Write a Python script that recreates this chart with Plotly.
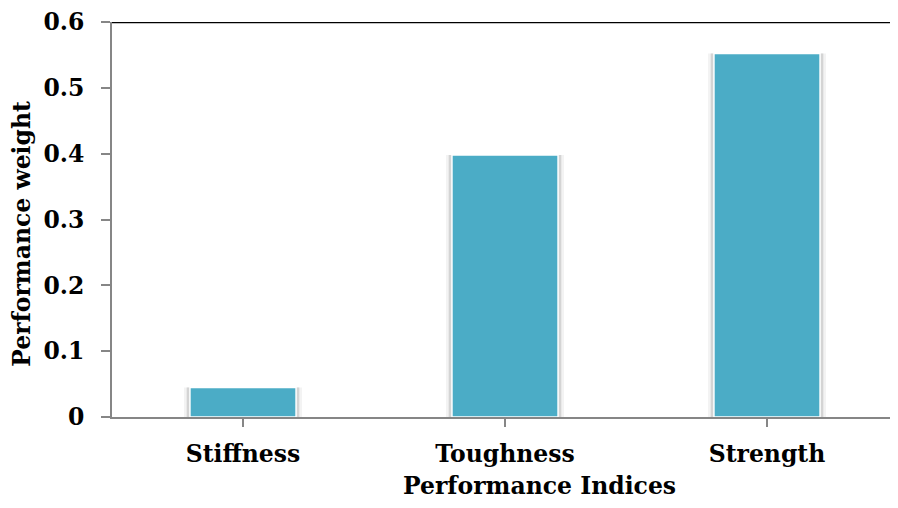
import plotly.graph_objects as go

categories = ["Stiffness", "Toughness", "Strength"]
weights = [0.045, 0.398, 0.552]
y_tick_vals = [0, 0.1, 0.2, 0.3, 0.4, 0.5, 0.6]
y_tick_text = ["0", "0.1", "0.2", "0.3", "0.4", "0.5", "0.6"]
x_title = "Performance Indices"
y_title = "Performance weight"

FONT = "DejaVu Serif"
BAR_COLOR = "#4BACC6"
FS = 23.5

fig = go.Figure()
# soft shadow halo behind bars
fig.add_trace(go.Bar(x=categories, y=weights, width=0.45,
                     marker=dict(color="#f3f3f3", line=dict(width=0)),
                     hoverinfo="skip", showlegend=False))
fig.add_trace(go.Bar(x=categories, y=weights, width=0.43,
                     marker=dict(color="#d4d4d4", line=dict(width=0)),
                     hoverinfo="skip", showlegend=False))
fig.add_trace(go.Bar(x=categories, y=weights, width=0.405,
                     marker=dict(color=BAR_COLOR, line=dict(color="white", width=1.5)),
                     showlegend=False))

fig.update_layout(
    width=890, height=500,
    margin=dict(l=104, r=0, t=10, b=91),
    paper_bgcolor="white", plot_bgcolor="white",
    barmode="overlay",
    font=dict(family=FONT, color="black", size=FS),
    xaxis=dict(
        showgrid=False, showline=True, linecolor="#868686", linewidth=2,
        ticks="outside", tickcolor="#868686", ticklen=8, tickwidth=2,
        ticklabelstandoff=7,
        tickfont=dict(family=FONT, size=FS, color="black", weight="bold"),
        range=[-0.5, 2.5],
    ),
    yaxis=dict(
        range=[0, 0.6], tickvals=y_tick_vals, ticktext=y_tick_text,
        showgrid=False, showline=True, linecolor="#868686", linewidth=2,
        ticks="outside", tickcolor="#868686", ticklen=9, tickwidth=2,
        ticklabelstandoff=12, ticklabeloverflow="allow",
        tickfont=dict(family=FONT, size=FS, color="black", weight="bold"),
        zeroline=False,
    ),
    shapes=[dict(type="line", xref="paper", yref="y", x0=0, x1=1, y0=0.6, y1=0.6,
                 line=dict(color="black", width=2.5))],
    annotations=[
        dict(text=f"<b>{x_title}</b>", xref="paper", yref="paper", x=0.5445, y=0,
             xanchor="center", yanchor="middle", yshift=-69, showarrow=False,
             font=dict(family=FONT, size=FS, color="black")),
        dict(text=f"<b>{y_title}</b>", xref="paper", yref="paper", x=0, y=0.464,
             xanchor="center", yanchor="middle", xshift=-90, textangle=-90, showarrow=False,
             borderpad=0,
             font=dict(family=FONT, size=FS, color="black")),
    ],
)

fig.write_html("out.html")
